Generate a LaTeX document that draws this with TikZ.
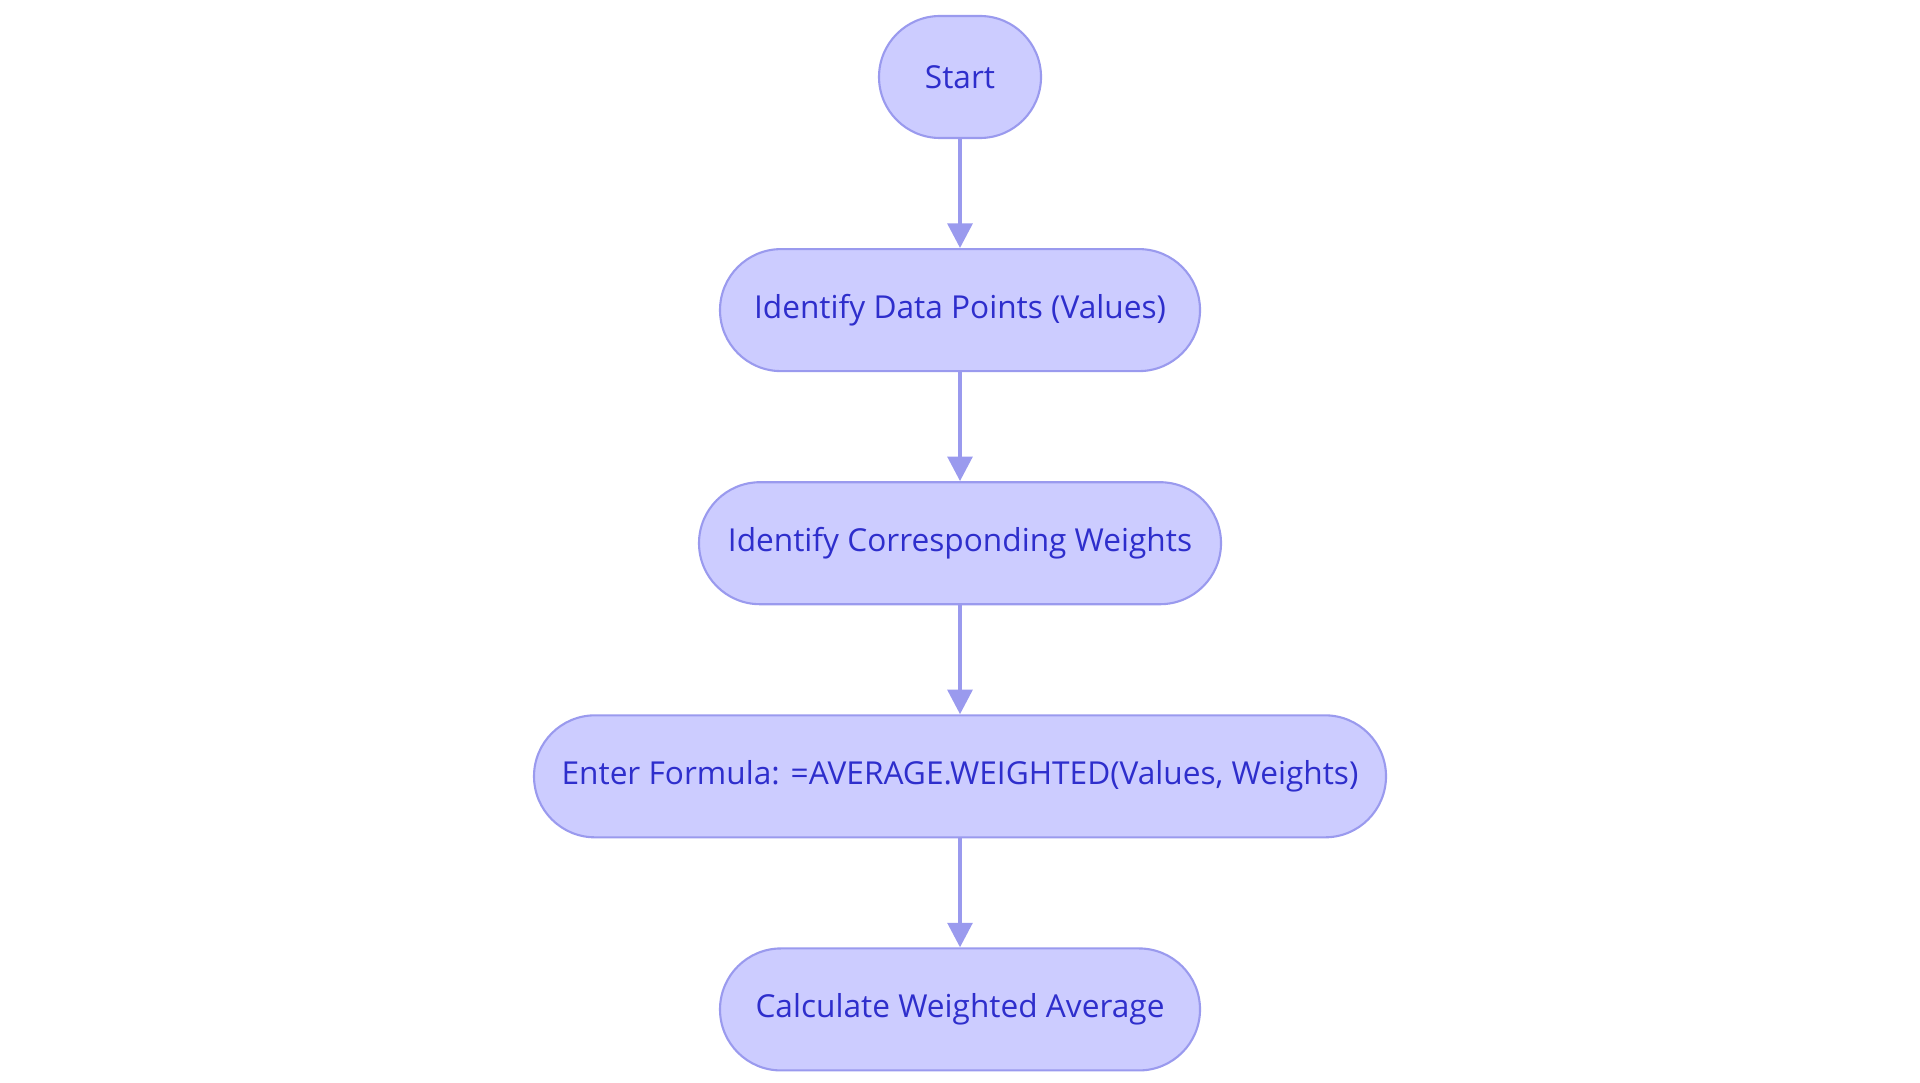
\documentclass[tikz,border=0pt]{standalone}
\usepackage{fontspec}
\setmainfont{Open Sans}
\usetikzlibrary{positioning}
\usetikzlibrary{arrows.meta}
\definecolor{boxfill}{HTML}{CCCCFF}
\definecolor{boxline}{HTML}{9A9AEE}
\definecolor{boxtext}{HTML}{2E2ECC}
\begin{document}
\begin{tikzpicture}[
  stage/.style={draw=boxline, fill=boxfill, text=boxtext, rectangle, rounded corners=0.61cm,
    minimum height=1.22cm, font=\fontsize{9}{11}\selectfont, line width=0.6pt},
  arr/.style={draw=boxline, line width=1.2pt, -{Triangle[length=7pt,width=7pt]}},
  node distance=1.09cm,
]
\useasboundingbox (0,0) rectangle (19.2,-10.83);

\node (start) [stage, minimum width=1.62cm] at (9.6,-0.77) {Start};
\node (values) [stage, minimum width=4.8cm, below=of start] {Identify Data Points (Values)};
\node (weights) [stage, minimum width=5.22cm, below=of values] {Identify Corresponding Weights};
\node (formula) [stage, minimum width=8.52cm, below=of weights] {Enter Formula: =AVERAGE.WEIGHTED(Values, Weights)};
\node (result) [stage, minimum width=4.8cm, below=of formula] {Calculate Weighted Average};

\draw[arr] (start) -- (values);
\draw[arr] (values) -- (weights);
\draw[arr] (weights) -- (formula);
\draw[arr] (formula) -- (result);
\end{tikzpicture}
\end{document}
